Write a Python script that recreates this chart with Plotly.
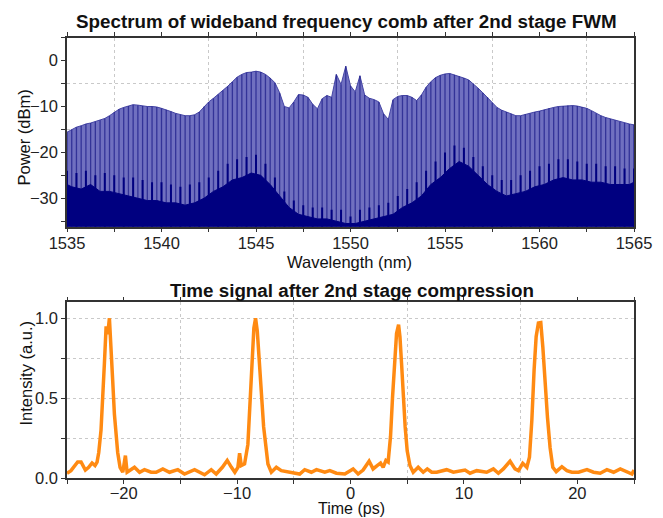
import plotly.graph_objects as go

# ---------------- data: spectrum ----------------
wl_env = [1535 + 0.25 * i for i in range(121)]
peak_env_dbm = [
    -15.6, -15.0, -14.5, -14.2, -13.8, -13.6, -13.3, -13.0, -12.6, -12.0,
    -11.2, -10.6, -10.2, -9.9, -9.6, -9.7, -9.9, -10.0, -10.0, -10.1,
    -10.4, -10.7, -11.1, -11.5, -11.8, -12.0, -12.0, -11.8, -11.2, -10.0,
    -9.0, -8.2, -7.4, -6.5, -5.6, -4.6, -3.6, -3.0, -2.6, -2.5,
    -2.3, -2.5, -3.0, -3.8, -4.8, -7.0, -10.0, -10.3, -9.0, -7.4,
    -7.5, -8.0, -9.5, -10.5, -8.3, -7.6, -8.0, -3.0, -5.2, -1.2,
    -5.5, -6.8, -3.3, -7.5, -8.2, -8.5, -9.0, -11.6, -12.8, -8.5,
    -7.8, -7.6, -7.6, -8.0, -8.7, -7.5, -5.8, -4.6, -3.7, -3.2,
    -2.9, -2.8, -3.1, -3.4, -3.8, -4.2, -5.0, -6.0, -7.0, -8.0,
    -9.2, -10.2, -10.8, -11.2, -11.6, -12.0, -12.0, -11.7, -11.5, -11.2,
    -11.0, -10.7, -10.4, -10.2, -10.0, -9.9, -9.8, -9.8, -9.9, -10.1,
    -10.4, -10.9, -11.5, -12.0, -12.4, -12.7, -13.0, -13.3, -13.6, -13.8,
    -14.0,
]
noise_top_dbm = [
    -24.0, -27.5, -24.5, -28.0, -24.0, -27.0, -25.0, -28.5, -24.5, -28.5,
    -25.0, -29.0, -25.5, -29.5, -25.5, -30.0, -26.0, -30.5, -26.5, -30.5,
    -26.5, -31.0, -27.0, -31.0, -27.5, -31.5, -27.0, -31.0, -26.5, -30.0,
    -25.5, -28.5, -24.0, -27.5, -22.5, -26.0, -21.5, -25.5, -21.0, -24.5,
    -20.5, -25.0, -22.5, -27.0, -25.5, -29.5, -28.5, -32.0, -30.5, -33.5,
    -31.5, -34.0, -32.0, -34.5, -32.0, -34.5, -32.5, -35.0, -32.5, -35.5,
    -34.0, -35.5, -32.5, -35.0, -32.0, -34.5, -31.5, -34.0, -31.0, -33.5,
    -29.5, -32.0, -28.0, -31.0, -26.5, -29.5, -24.0, -27.0, -22.0, -25.5,
    -20.0, -23.5, -18.5, -22.0, -19.0, -23.0, -21.0, -25.0, -23.0, -27.0,
    -25.0, -28.5, -26.0, -29.5, -26.0, -29.0, -25.0, -28.5, -24.0, -27.5,
    -23.0, -27.0, -22.5, -26.0, -21.5, -25.5, -21.5, -26.0, -22.0, -26.0,
    -22.5, -26.5, -22.5, -26.5, -23.0, -27.0, -23.0, -27.0, -23.5, -27.0,
    -23.5,
]

# ---------------- data: time signal ----------------
time_ps = [
    -25.0, -24.65, -24.06, -23.76, -23.38, -23.09, -22.79, -22.53, -22.35, -22.2,
    -22.0, -21.85, -21.7, -21.55, -21.41, -21.26, -21.11, -20.97, -20.82, -20.67,
    -20.53, -20.32, -20.08, -19.85, -19.7, -19.41, -19.05, -18.6, -18.17, -17.58,
    -17.14, -16.55, -15.96, -15.23, -14.64, -13.75, -13.3, -12.87, -12.28, -11.84,
    -11.3, -10.87, -10.5, -10.2, -9.93, -9.78, -9.63, -9.34, -9.05, -8.83,
    -8.66, -8.52, -8.37, -8.22, -8.07, -7.86, -7.66, -7.48, -7.28, -6.98,
    -6.54, -6.1, -5.65, -5.07, -4.48, -4.04, -3.45, -3.0, -2.27, -1.83,
    -1.24, -0.5, 0.23, 0.67, 1.11, 1.64, 1.99, 2.35, 2.65, 2.88,
    3.12, 3.32, 3.53, 3.71, 3.91, 4.06, 4.24, 4.36, 4.5, 4.65,
    4.82, 5.0, 5.24, 5.53, 5.97, 6.41, 6.77, 7.16, 7.6, 8.48,
    9.07, 10.1, 10.54, 11.13, 12.01, 12.6, 13.04, 13.48, 14.07, 14.51,
    14.81, 15.19, 15.55, 15.78, 15.99, 16.19, 16.37, 16.57, 16.78, 16.96,
    17.16, 17.37, 17.6, 17.84, 18.14, 18.64, 19.08, 19.52, 20.11, 20.85,
    21.43, 22.02, 22.61, 23.2, 23.79, 24.38, 24.82, 25.0,
]
intensity_au = [
    0.03, 0.046, 0.10, 0.10, 0.05, 0.067, 0.094, 0.078, 0.10, 0.16,
    0.30, 0.47, 0.72, 0.95, 0.90, 1.00, 0.84, 0.61, 0.40, 0.26,
    0.16, 0.067, 0.036, 0.14, 0.036, 0.05, 0.067, 0.036, 0.052, 0.036,
    0.036, 0.057, 0.036, 0.052, 0.025, 0.052, 0.036, 0.02, 0.052, 0.025,
    0.067, 0.11, 0.067, 0.036, 0.067, 0.155, 0.078, 0.088, 0.21, 0.51,
    0.78, 0.94, 1.00, 0.92, 0.76, 0.51, 0.32, 0.21, 0.088, 0.036,
    0.067, 0.046, 0.04, 0.036, 0.025, 0.052, 0.036, 0.052, 0.036, 0.046,
    0.03, 0.025, 0.057, 0.025, 0.05, 0.105, 0.057, 0.078, 0.094, 0.067,
    0.11, 0.10, 0.26, 0.51, 0.78, 0.905, 0.96, 0.885, 0.72, 0.51,
    0.32, 0.17, 0.078, 0.036, 0.067, 0.036, 0.057, 0.036, 0.036, 0.052,
    0.036, 0.05, 0.03, 0.046, 0.036, 0.057, 0.03, 0.057, 0.105, 0.057,
    0.046, 0.092, 0.067, 0.13, 0.36, 0.675, 0.885, 0.97, 0.973, 0.82,
    0.57, 0.38, 0.19, 0.067, 0.04, 0.071, 0.046, 0.036, 0.036, 0.052,
    0.036, 0.03, 0.052, 0.036, 0.057, 0.036, 0.025, 0.05,
]

# ---------------- styling constants ----------------
Y1_RANGE = [-36.2, 5]
X1_RANGE = [1535, 1565]
X2_RANGE = [-25, 25]
Y2_RANGE = [0, 1.1]
FONT = "Liberation Sans, Arial, sans-serif"
AXIS_COLOR = "#333333"
GRID_COLOR = "#c9c9c9"
TICK_SIZE = 16.5
TITLE_SIZE = 18.8
floor = Y1_RANGE[0]

fig = go.Figure()

# comb envelope filled area (light comb lines)
fig.add_trace(go.Scatter(
    x=wl_env + wl_env[::-1],
    y=peak_env_dbm + [floor] * len(wl_env),
    fill="toself", fillcolor="#7070c0", mode="lines",
    line=dict(color="#4444a4", width=1), hoverinfo="skip",
    xaxis="x", yaxis="y", showlegend=False,
))
# darker comb lines (stripes)
sx, sy = [], []
for w, p in zip(wl_env, peak_env_dbm):
    sx += [w, w, None]
    sy += [floor, p, None]
fig.add_trace(go.Scatter(
    x=sx, y=sy, mode="lines",
    line=dict(color="rgba(25,25,135,0.7)", width=1.3),
    hoverinfo="skip", xaxis="x", yaxis="y", showlegend=False,
))
# noise floor: solid part through the valleys, spikes as thin lines
wl_valley, noise_valley = wl_env[1::2], noise_top_dbm[1::2]
fig.add_trace(go.Scatter(
    x=[wl_env[0]] + wl_valley + [wl_env[-1], wl_env[-1], wl_env[0]],
    y=[noise_top_dbm[0] - 3] + noise_valley + [noise_top_dbm[-1] - 3, floor, floor],
    fill="toself", fillcolor="#000080", mode="lines",
    line=dict(color="#000080", width=1), hoverinfo="skip",
    xaxis="x", yaxis="y", showlegend=False,
))
nx, ny = [], []
for w, p in zip(wl_env[0::2], noise_top_dbm[0::2]):
    nx += [w, w, None]
    ny += [floor, p, None]
fig.add_trace(go.Scatter(
    x=nx, y=ny, mode="lines",
    line=dict(color="#000080", width=2),
    hoverinfo="skip", xaxis="x", yaxis="y", showlegend=False,
))

# time signal
fig.add_trace(go.Scatter(
    x=time_ps, y=intensity_au, mode="lines",
    line=dict(color="#ff8a12", width=3.5),
    xaxis="x2", yaxis="y2", showlegend=False,
))

L, R = 67 / 663, 634 / 663
common = dict(
    showline=True, linecolor=AXIS_COLOR, linewidth=1.5,
    ticks="outside", ticklen=4, tickwidth=1.2, tickcolor=AXIS_COLOR,
    tickfont=dict(family=FONT, size=TICK_SIZE, color="#222222"),
    zeroline=False, showgrid=False, automargin=False,
)
minor_grid = dict(showgrid=True, gridcolor=GRID_COLOR, griddash="dot", gridwidth=1,
                  ticks="outside", ticklen=4, tickwidth=1.2, tickcolor=AXIS_COLOR)

fig.update_layout(
    template="none",
    width=663, height=518,
    margin=dict(l=0, r=0, t=0, b=0, pad=0, autoexpand=False),
    paper_bgcolor="white", plot_bgcolor="white",
    xaxis=dict(domain=[L, R], range=X1_RANGE, anchor="y", tick0=1535, dtick=5,
               mirror="ticks", ticklabelstandoff=-3,
               minor=dict(dtick=2.5, **minor_grid), **common),
    yaxis=dict(domain=[1 - 226.7 / 518, 1 - 37.7 / 518], range=Y1_RANGE, anchor="x",
               tick0=0, dtick=10, mirror=True,
               minor=dict(dtick=5, **minor_grid), **common),
    xaxis2=dict(domain=[L, R], range=X2_RANGE, anchor="y2", tick0=0, dtick=10,
                mirror="ticks", ticklabelstandoff=-5,
                minor=dict(dtick=5, **minor_grid), **common),
    yaxis2=dict(domain=[1 - 478 / 518, 1 - 302.3 / 518], range=Y2_RANGE, anchor="x2",
                tick0=0, dtick=0.5, tickformat=".1f", mirror=True,
                minor=dict(dtick=0.25, **minor_grid), **common),
)
fig.update_yaxes(selector=dict(anchor="x2"), showgrid=True, gridcolor=GRID_COLOR,
                 griddash="dot", gridwidth=1)

def ann(text, x, y, size=TICK_SIZE, bold=False, angle=0):
    fig.add_annotation(
        text=f"<b>{text}</b>" if bold else text,
        x=x / 663, y=1 - y / 518, xref="paper", yref="paper",
        xanchor="center", yanchor="middle", showarrow=False, textangle=angle,
        font=dict(family=FONT, size=size, color="#111111"), borderpad=0,
    )

ann("Spectrum of wideband frequency comb after 2nd stage FWM", 346, 21.5, size=TITLE_SIZE, bold=True)
ann("Wavelength (nm)", 349, 262)
ann("Power (dBm)", 24, 137.5, angle=-90)
ann("Time signal after 2nd stage compression", 352, 290.5, size=TITLE_SIZE, bold=True)
ann("Time (ps)", 351, 508.5, size=16)
ann("Intensity (a.u.)", 25, 373.5, angle=-90)

fig.write_html("out.html")
